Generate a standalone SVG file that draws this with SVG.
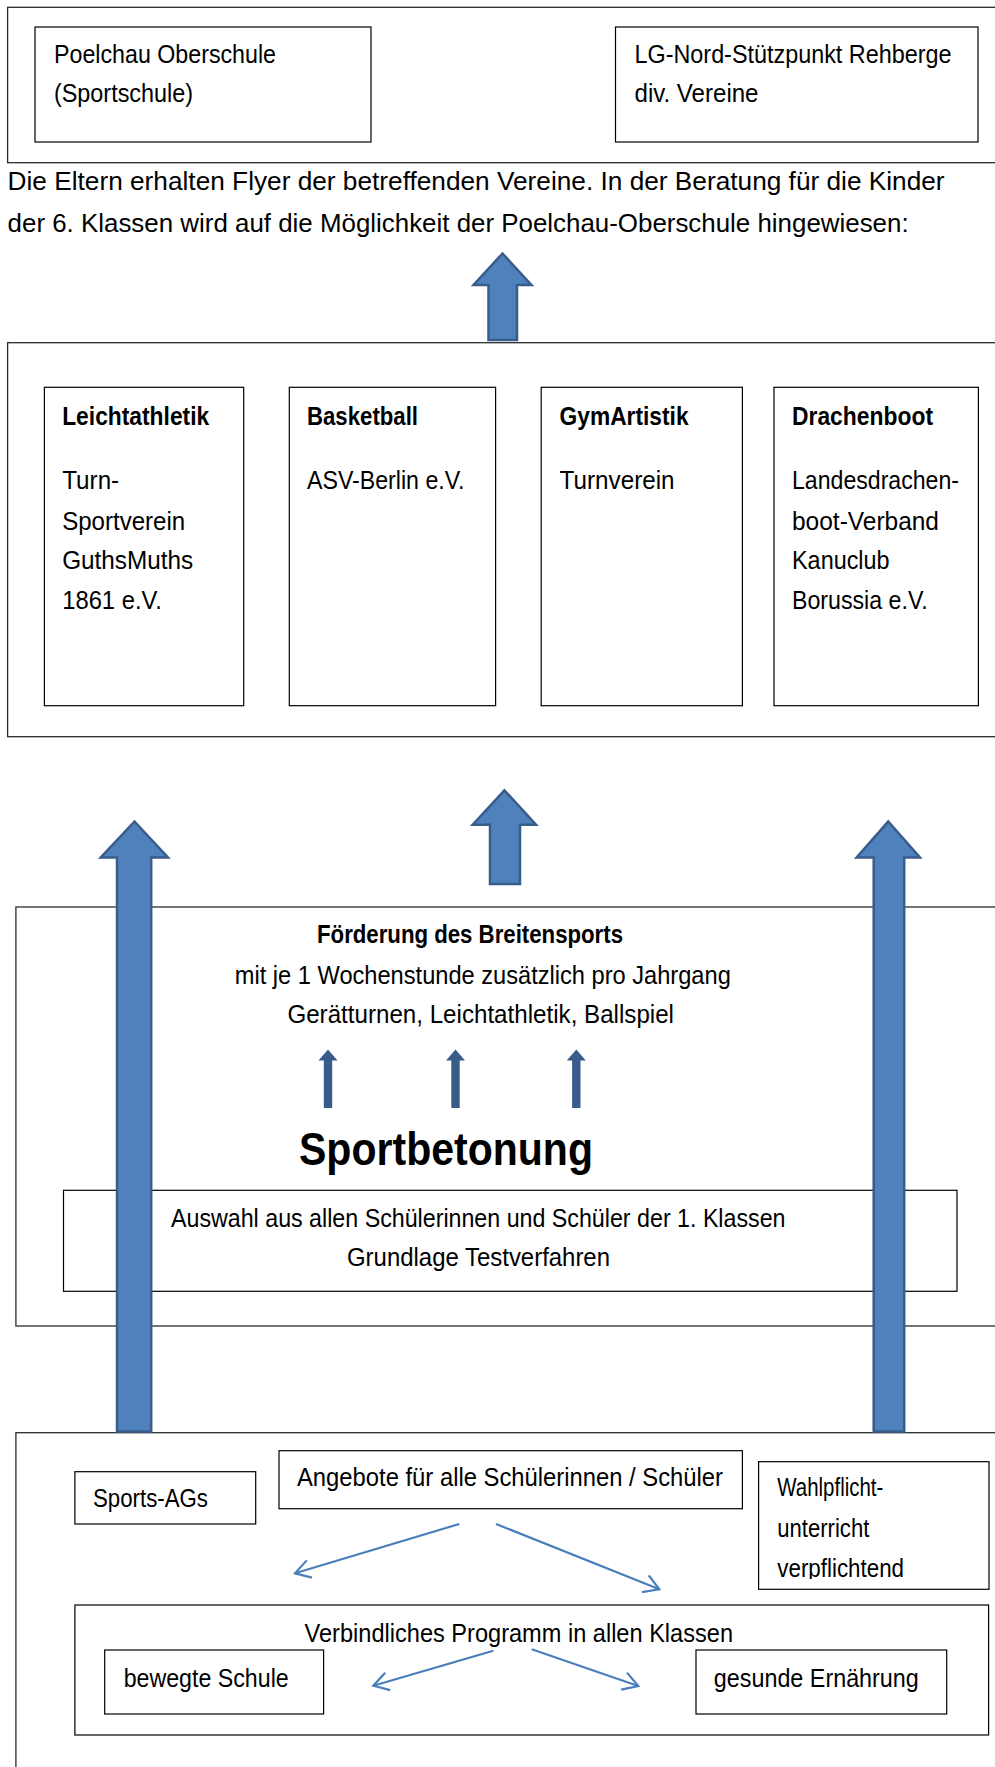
<svg xmlns="http://www.w3.org/2000/svg" width="995" height="1767" viewBox="0 0 995 1767">
<style>
.t{font-family:"Liberation Sans",Arial,sans-serif;font-size:26px;fill:#000}
.b{font-weight:bold}
.ob{fill:none;stroke:#2b2b2b;stroke-width:1.3}
.ib{fill:#fff;stroke:#000;stroke-width:1.2}
.blk{fill:#4F81BD;stroke:#385D8A;stroke-width:2.5;stroke-linejoin:miter}
.sm{fill:#385D8A}
.thin{fill:none;stroke:#4A7EBB;stroke-width:2.2;marker-end:url(#open)}
</style>
<defs>
<marker id="open" viewBox="-17 -11 19 22" refX="0" refY="0" markerWidth="19" markerHeight="22" markerUnits="userSpaceOnUse" orient="auto">
<path d="M-15,-9 L0,0 L-15,9" fill="none" stroke="#4A7EBB" stroke-width="2.2"/>
</marker>
<clipPath id="wclip"><rect x="758" y="1461" width="232" height="118"/></clipPath>
</defs>
<rect width="995" height="1767" fill="#fff"/>

<g id="top-box">
<rect class="ob" x="7.6" y="7.3" width="1000" height="155.4"/>
</g>
<g id="poelchau">
<rect class="ib" x="35" y="27" width="336" height="115"/>
<text class="t" x="54" y="63" textLength="222" lengthAdjust="spacingAndGlyphs">Poelchau Oberschule</text>
<text class="t" x="54" y="102" textLength="139" lengthAdjust="spacingAndGlyphs">(Sportschule)</text>
</g>
<g id="lgnord">
<rect class="ib" x="615.5" y="27" width="362.5" height="115"/>
<text class="t" x="634.5" y="63" textLength="317" lengthAdjust="spacingAndGlyphs">LG-Nord-Stützpunkt Rehberge</text>
<text class="t" x="634.5" y="102" textLength="124" lengthAdjust="spacingAndGlyphs">div. Vereine</text>
</g>
<g id="paragraph">
<text class="t" x="7.6" y="190" textLength="937" lengthAdjust="spacingAndGlyphs">Die Eltern erhalten Flyer der betreffenden Vereine. In der Beratung für die Kinder</text>
<text class="t" x="7.6" y="232" textLength="901" lengthAdjust="spacingAndGlyphs">der 6. Klassen wird auf die Möglichkeit der Poelchau-Oberschule hingewiesen:</text>
</g>

<g id="vereine-box">
<rect class="ob" x="7.6" y="342.7" width="1000" height="394"/>
</g>
<g id="leichtathletik">
<rect class="ib" x="44.4" y="387.3" width="199.3" height="318.4"/>
<text class="t b" x="62.2" y="425" textLength="147" lengthAdjust="spacingAndGlyphs">Leichtathletik</text>
<text class="t" x="62.2" y="489" textLength="57" lengthAdjust="spacingAndGlyphs">Turn-</text>
<text class="t" x="62.2" y="530" textLength="123" lengthAdjust="spacingAndGlyphs">Sportverein</text>
<text class="t" x="62.2" y="569" textLength="131" lengthAdjust="spacingAndGlyphs">GuthsMuths</text>
<text class="t" x="62.2" y="609" textLength="99.6" lengthAdjust="spacingAndGlyphs">1861 e.V.</text>
</g>
<g id="basketball">
<rect class="ib" x="289.3" y="387.3" width="206.3" height="318.4"/>
<text class="t b" x="307" y="425" textLength="111" lengthAdjust="spacingAndGlyphs">Basketball</text>
<text class="t" x="307" y="489" textLength="157.5" lengthAdjust="spacingAndGlyphs">ASV-Berlin e.V.</text>
</g>
<g id="gymartistik">
<rect class="ib" x="541.2" y="387.3" width="201.2" height="318.4"/>
<text class="t b" x="559.6" y="425" textLength="129" lengthAdjust="spacingAndGlyphs">GymArtistik</text>
<text class="t" x="559.6" y="489" textLength="115" lengthAdjust="spacingAndGlyphs">Turnverein</text>
</g>
<g id="drachenboot">
<rect class="ib" x="774" y="387.3" width="204.4" height="318.4"/>
<text class="t b" x="792" y="425" textLength="141" lengthAdjust="spacingAndGlyphs">Drachenboot</text>
<text class="t" x="792" y="489" textLength="167" lengthAdjust="spacingAndGlyphs">Landesdrachen-</text>
<text class="t" x="792" y="530" textLength="147" lengthAdjust="spacingAndGlyphs">boot-Verband</text>
<text class="t" x="792" y="569" textLength="97.6" lengthAdjust="spacingAndGlyphs">Kanuclub</text>
<text class="t" x="792" y="609" textLength="135.7" lengthAdjust="spacingAndGlyphs">Borussia e.V.</text>
</g>

<g id="sportbetonung-box">
<rect class="ob" x="15.9" y="907" width="1000" height="419"/>
<text class="t b" x="317" y="943" textLength="306" lengthAdjust="spacingAndGlyphs">Förderung des Breitensports</text>
<text class="t" x="234.8" y="984" textLength="496" lengthAdjust="spacingAndGlyphs">mit je 1 Wochenstunde zusätzlich pro Jahrgang</text>
<text class="t" x="287.4" y="1023" textLength="386.6" lengthAdjust="spacingAndGlyphs">Gerätturnen, Leichtathletik, Ballspiel</text>
<text class="t b" x="299" y="1165" style="font-size:46px" textLength="294" lengthAdjust="spacingAndGlyphs">Sportbetonung</text>
</g>
<g id="auswahl">
<rect class="ib" x="63.5" y="1190.3" width="893.5" height="101"/>
<text class="t" x="171" y="1227" textLength="614.5" lengthAdjust="spacingAndGlyphs">Auswahl aus allen Schülerinnen und Schüler der 1. Klassen</text>
<text class="t" x="347" y="1266" textLength="263" lengthAdjust="spacingAndGlyphs">Grundlage Testverfahren</text>
</g>

<g id="angebote-box">
<rect class="ob" x="15.9" y="1432.7" width="1000" height="400"/>
</g>
<g id="sports-ags">
<rect class="ib" x="74.9" y="1471.7" width="180.8" height="52.3"/>
<text class="t" x="93" y="1507" textLength="115" lengthAdjust="spacingAndGlyphs">Sports-AGs</text>
</g>
<g id="angebote">
<rect class="ib" x="279" y="1450.7" width="463.4" height="58"/>
<text class="t" x="297" y="1486" textLength="426" lengthAdjust="spacingAndGlyphs">Angebote für alle Schülerinnen / Schüler</text>
</g>
<g id="wahlpflicht">
<rect class="ib" x="758.6" y="1461.7" width="230.4" height="127.6"/>
<g clip-path="url(#wclip)">
<text class="t" x="777.3" y="1496" textLength="106" lengthAdjust="spacingAndGlyphs">Wahlpflicht-</text>
<text class="t" x="777.3" y="1536.5" textLength="92" lengthAdjust="spacingAndGlyphs">unterricht</text>
<text class="t" x="777.3" y="1577" textLength="126.7" lengthAdjust="spacingAndGlyphs">verpflichtend</text>
</g>
</g>
<g id="verbindlich">
<rect class="ib" x="74.9" y="1605" width="913.7" height="130"/>
<text class="t" x="304.6" y="1641.5" textLength="428.4" lengthAdjust="spacingAndGlyphs">Verbindliches Programm in allen Klassen</text>
</g>
<g id="bewegte-schule">
<rect class="ib" x="104.7" y="1650" width="218.9" height="64"/>
<text class="t" x="123.7" y="1687" textLength="165" lengthAdjust="spacingAndGlyphs">bewegte Schule</text>
</g>
<g id="gesunde-ernaehrung">
<rect class="ib" x="696" y="1650" width="250.7" height="64"/>
<text class="t" x="713.8" y="1687" textLength="205" lengthAdjust="spacingAndGlyphs">gesunde Ernährung</text>
</g>

<g id="connectors">
<polygon class="blk" points="502.5,253.5 531.5,285 517,285 517,340 488.5,340 488.5,285 473.5,285"/>
<polygon class="blk" points="504.4,790.3 536,824.7 520,824.7 520,884 490,884 490,824.7 472.7,824.7"/>
<polygon class="blk" points="134.5,821.5 168,857.5 151.2,857.5 151.2,1431.5 117,1431.5 117,857.5 100.7,857.5"/>
<polygon class="blk" points="888.3,821.5 920,857.5 904.2,857.5 904.2,1431.5 873.7,1431.5 873.7,857.5 856.6,857.5"/>
<polygon class="sm" points="328,1049.5 337.5,1060.5 332.2,1060.5 332.2,1108 323.8,1108 323.8,1060.5 318.5,1060.5"/>
<polygon class="sm" points="455.5,1049.5 465,1060.5 459.7,1060.5 459.7,1108 451.3,1108 451.3,1060.5 446,1060.5"/>
<polygon class="sm" points="576.3,1049.5 585.8,1060.5 580.5,1060.5 580.5,1108 572.1,1108 572.1,1060.5 566.8,1060.5"/>
<line class="thin" x1="459.3" y1="1524" x2="295" y2="1573.3"/>
<line class="thin" x1="496" y1="1524" x2="659.3" y2="1589.3"/>
<line class="thin" x1="493.3" y1="1650.7" x2="373.3" y2="1685.7"/>
<line class="thin" x1="531.7" y1="1649.3" x2="638.3" y2="1686"/>
</g>
</svg>
